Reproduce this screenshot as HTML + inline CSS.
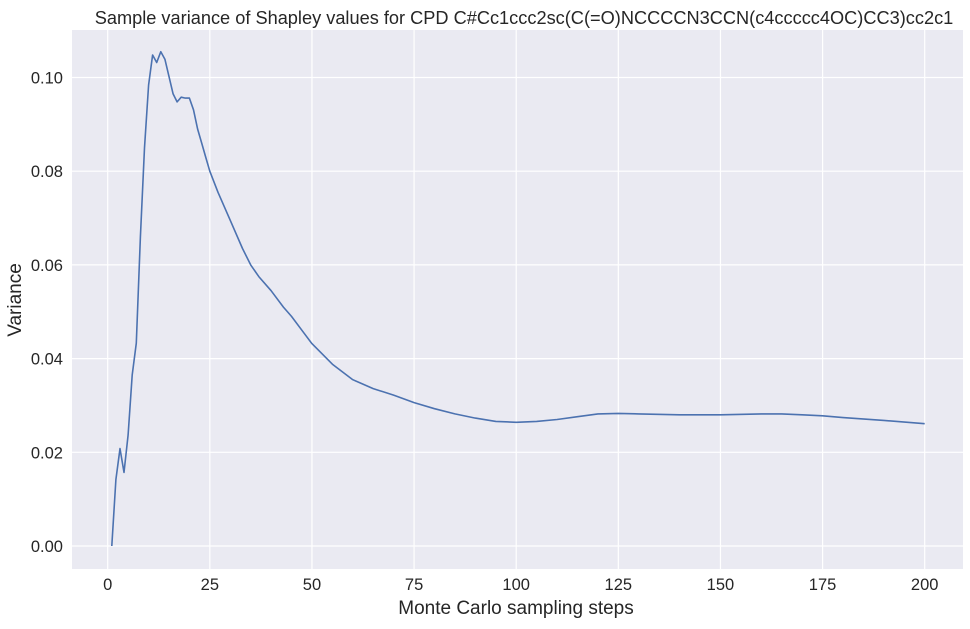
<!DOCTYPE html>
<html><head><meta charset="utf-8"><style>
body{margin:0;background:#fff;font-family:"Liberation Sans",sans-serif}
svg text{font-family:"Liberation Sans",sans-serif;fill:#262626}
</style></head><body>
<svg id="chart" width="970" height="624">
<rect x="72" y="30" width="891" height="539" fill="#eaeaf2"/>
<g id="grid"></g><g id="ticks"></g>
<path id="line" fill="none" stroke="#4c72b0" stroke-width="1.6" stroke-linejoin="round"/>
<text x="524" y="24" font-size="18.2" text-anchor="middle">Sample variance of Shapley values for CPD C#Cc1ccc2sc(C(=O)NCCCCN3CCN(c4ccccc4OC)CC3)cc2c1</text>
<text x="516" y="614" font-size="19" text-anchor="middle">Monte Carlo sampling steps</text>
<text x="21" y="300" font-size="19" text-anchor="middle" transform="rotate(-90 21 300)">Variance</text>
</svg>
<script>
const steps=[1,2,3,4,5,6,7,8,9,10,11,12,13,14,15,16,17,18,19,20,21,22,23,24,25,27,30,33,35,37,40,43,45,48,50,55,60,65,70,75,80,85,90,95,100,105,110,115,120,125,130,140,150,160,165,170,175,180,190,200];
const variance=[0,0.0142,0.0208,0.0157,0.0237,0.0365,0.0433,0.066,0.085,0.0984,0.1048,0.1032,0.1055,0.1039,0.1002,0.0965,0.0948,0.0958,0.0956,0.0956,0.0931,0.089,0.086,0.083,0.080,0.0755,0.0695,0.0635,0.060,0.0575,0.0545,0.051,0.049,0.0455,0.0432,0.0388,0.0355,0.0336,0.0322,0.0306,0.0293,0.0282,0.0273,0.0266,0.0264,0.0266,0.027,0.0276,0.0282,0.0283,0.0282,0.028,0.028,0.0282,0.0282,0.028,0.0278,0.0274,0.0268,0.0261];
const xTicks=[0,25,50,75,100,125,150,175,200];
const yTicks=[0,0.02,0.04,0.06,0.08,0.10];
const xs=v=>107.7+v*4.085, ys=v=>546-v*4685;
const NS="http://www.w3.org/2000/svg";
const g=document.getElementById('grid'),t=document.getElementById('ticks');
xTicks.forEach(v=>{
 const l=document.createElementNS(NS,'line');
 l.setAttribute('x1',xs(v));l.setAttribute('x2',xs(v));l.setAttribute('y1',30);l.setAttribute('y2',569);
 l.setAttribute('stroke','#fff');l.setAttribute('stroke-width','1.2');
 
 
 g.appendChild(l);
 const s=document.createElementNS(NS,'text');
 s.setAttribute('x',xs(v));s.setAttribute('y',590);s.setAttribute('font-size','16.5');s.setAttribute('text-anchor','middle');
 s.textContent=v;
 
 
 t.appendChild(s);
});
yTicks.forEach(v=>{
 const l=document.createElementNS(NS,'line');
 l.setAttribute('x1',72);l.setAttribute('x2',963);l.setAttribute('y1',ys(v));l.setAttribute('y2',ys(v));
 l.setAttribute('stroke','#fff');l.setAttribute('stroke-width','1.2');
 
 
 g.appendChild(l);
 const s=document.createElementNS(NS,'text');
 s.setAttribute('x',63);s.setAttribute('y',ys(v)+6);s.setAttribute('font-size','16.5');s.setAttribute('text-anchor','end');
 s.textContent=v.toFixed(2);
 
 
 t.appendChild(s);
});
document.getElementById('line').setAttribute('d',steps.map((s,i)=>(i?'L':'M')+xs(s).toFixed(1)+','+ys(variance[i]).toFixed(1)).join(''));
</script>
</body></html>
